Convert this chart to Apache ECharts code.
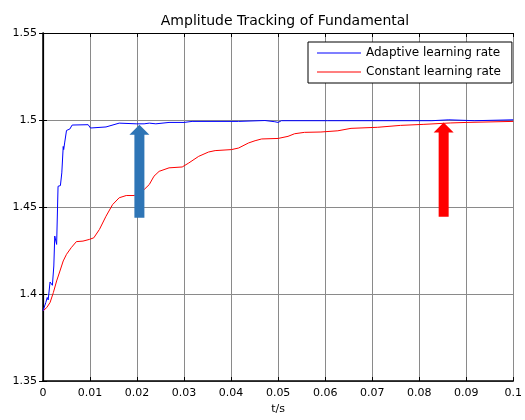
<!DOCTYPE html>
<html>
<head>
<meta charset="utf-8">
<script src="https://cdn.jsdelivr.net/npm/echarts@6/dist/echarts.min.js"></script>
<style>html,body{margin:0;padding:0;background:#fff;}#c{width:525px;height:420px;}</style>
</head>
<body>
<div id="c"></div>
<script>
const titleText = 'Amplitude Tracking of Fundamental';
const xName = 't/s';
const seriesNames = ['Adaptive learning rate', 'Constant learning rate'];

const adaptiveT = [0, 0.0006, 0.0009, 0.0011, 0.0015, 0.0018, 0.0020, 0.0023, 0.0025, 0.0027, 0.0029, 0.0032, 0.0037, 0.0040, 0.0043, 0.0044, 0.0046, 0.0050, 0.0057, 0.0062, 0.0096, 0.0101, 0.0134, 0.0136, 0.0162, 0.0198, 0.0215, 0.0226, 0.0240, 0.0268, 0.0300, 0.0303, 0.0317, 0.0416, 0.0419, 0.0472, 0.0475, 0.0493, 0.0496, 0.0500, 0.0507, 0.0605, 0.0827, 0.0830, 0.0863, 0.0866, 0.0918, 0.0921, 0.1000];
const adaptiveY = [1.3903, 1.3951, 1.3980, 1.3966, 1.4069, 1.4069, 1.4050, 1.4161, 1.4333, 1.4333, 1.4285, 1.4619, 1.4623, 1.4696, 1.4848, 1.4830, 1.4868, 1.4940, 1.4948, 1.4971, 1.4973, 1.4954, 1.4960, 1.4955, 1.4982, 1.4978, 1.4978, 1.4982, 1.4978, 1.4986, 1.4986, 1.4978, 1.4992, 1.4992, 1.4997, 1.4997, 1.4990, 1.4990, 1.4996, 1.4986, 1.4996, 1.4996, 1.4996, 1.5001, 1.5001, 1.4996, 1.4996, 1.5001, 1.5001];

const constantT = [0, 0.0008, 0.0015, 0.0022, 0.0029, 0.0036, 0.0043, 0.0050, 0.0060, 0.0071, 0.0085, 0.0099, 0.0108, 0.0120, 0.0134, 0.0148, 0.0162, 0.0177, 0.0194, 0.0215, 0.0226, 0.0236, 0.0247, 0.0268, 0.0296, 0.0310, 0.0331, 0.0352, 0.0366, 0.0401, 0.0416, 0.0437, 0.0451, 0.0465, 0.0500, 0.0521, 0.0535, 0.0556, 0.0591, 0.0627, 0.0655, 0.0711, 0.0760, 0.0810, 0.0866, 0.0900, 0.1000];
const constantY = [1.3903, 1.3922, 1.3951, 1.4008, 1.4075, 1.4132, 1.4190, 1.4228, 1.4266, 1.4301, 1.4304, 1.4314, 1.4323, 1.4371, 1.4447, 1.4514, 1.4553, 1.4566, 1.4566, 1.4600, 1.4629, 1.4677, 1.4705, 1.4725, 1.4730, 1.4753, 1.4791, 1.4816, 1.4824, 1.4830, 1.4839, 1.4868, 1.4881, 1.4891, 1.4894, 1.4906, 1.4921, 1.4929, 1.4931, 1.4938, 1.4952, 1.4958, 1.4969, 1.4975, 1.4983, 1.4986, 1.4992];

// annotation arrows (data coordinates)
const arrowX = [0.0205, 0.0852];
const arrowTopY = [1.4973, 1.4986];
const arrowBottomY = [1.4438, 1.4444];
const arrowColors = ['#2E75B6', '#FF0000'];

const FONT = 'DejaVu Sans';
const zip = (a, b) => a.map((v, i) => [v, b[i]]);
const fmt = v => String(parseFloat(Number(v).toFixed(3)));

const chart = echarts.init(document.getElementById('c'), null, {renderer: 'canvas'});
const gridColor = '#8a8a8a';

const option = {
  animation: false,
  backgroundColor: '#fff',
  title: {
    text: titleText, left: 280, top: 9, textAlign: 'center',
    textStyle: {fontFamily: FONT, fontSize: 14, fontWeight: 'normal', color: '#000'}
  },
  legend: {
    orient: 'vertical', left: 308, top: 42,
    padding: [5, 11, 5, 9], itemGap: 7, itemWidth: 44, itemHeight: 12,
    icon: 'path://M0,5.5 L44,5.5 L44,6.5 L0,6.5 Z',
    borderColor: '#000', borderWidth: 1, backgroundColor: '#fff',
    textStyle: {fontFamily: FONT, fontSize: 12, color: '#000'},
    data: seriesNames
  },
  grid: {left: 43, right: 8, top: 33, bottom: 38, containLabel: false},
  xAxis: [{
    type: 'value', min: 0, max: 0.1, interval: 0.01, position: 'bottom',
    name: xName, nameLocation: 'middle', nameGap: 23,
    nameTextStyle: {fontFamily: FONT, fontSize: 11, color: '#000'},
    axisLine: {show: true, lineStyle: {color: '#000', width: 1.5}},
    axisTick: {show: true, inside: true, length: 4, lineStyle: {color: '#000'}},
    axisLabel: {fontFamily: FONT, fontSize: 11, color: '#000', margin: 7, formatter: fmt},
    splitLine: {show: true, lineStyle: {color: gridColor, width: 1}}
  }, {
    type: 'value', min: 0, max: 0.1, interval: 0.01, position: 'top',
    axisLine: {show: true, lineStyle: {color: '#000', width: 1.2}},
    axisTick: {show: true, inside: true, length: 4, lineStyle: {color: '#000'}},
    axisLabel: {show: false}, splitLine: {show: false}
  }],
  yAxis: [{
    type: 'value', min: 1.35, max: 1.55, interval: 0.05, position: 'left',
    axisLine: {show: true, lineStyle: {color: '#000', width: 1.5}},
    axisTick: {show: true, inside: true, length: 4, lineStyle: {color: '#000'}},
    axisLabel: {fontFamily: FONT, fontSize: 11, color: '#000', margin: 6, formatter: fmt},
    splitLine: {show: true, lineStyle: {color: gridColor, width: 1}}
  }, {
    type: 'value', min: 1.35, max: 1.55, interval: 0.05, position: 'right',
    axisLine: {show: true, lineStyle: {color: '#000', width: 1.2}},
    axisTick: {show: true, inside: true, length: 4, lineStyle: {color: '#000'}},
    axisLabel: {show: false}, splitLine: {show: false}
  }],
  series: [{
    name: seriesNames[0], type: 'line', xAxisIndex: 0, yAxisIndex: 0,
    symbol: 'none', color: '#0000FF', lineStyle: {color: '#0000FF', width: 1},
    data: zip(adaptiveT, adaptiveY), z: 3
  }, {
    name: seriesNames[1], type: 'line', xAxisIndex: 0, yAxisIndex: 0,
    symbol: 'none', color: '#FF0000', lineStyle: {color: '#FF0000', width: 1},
    data: zip(constantT, constantY), z: 2
  }]
};
chart.setOption(option);

// arrows drawn via the chart's own coordinate conversion
const graphics = arrowX.map((x, i) => {
  const top = chart.convertToPixel({gridIndex: 0}, [x, arrowTopY[i]]);
  const bot = chart.convertToPixel({gridIndex: 0}, [x, arrowBottomY[i]]);
  const cx = top[0], ty = top[1], by = bot[1];
  const headH = 10, headW = 10, shaftW = 5;
  return {
    type: 'polygon', z: 100,
    shape: {points: [
      [cx, ty], [cx + headW, ty + headH], [cx + shaftW, ty + headH],
      [cx + shaftW, by], [cx - shaftW, by], [cx - shaftW, ty + headH],
      [cx - headW, ty + headH]
    ]},
    style: {fill: arrowColors[i]}
  };
});
chart.setOption({graphic: graphics});
</script>
</body>
</html>
